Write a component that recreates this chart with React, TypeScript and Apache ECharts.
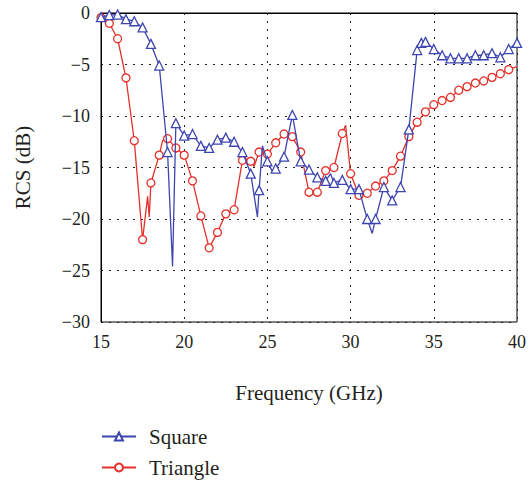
import React, { useEffect, useRef } from "react";
import * as echarts from "echarts";

const squareFreq = [15.0, 15.5, 16.0, 16.5, 17.0, 17.5, 18.0, 18.5, 19.0, 19.3, 19.5, 20.0, 20.5, 21.0, 21.5, 22.0, 22.5, 23.0, 23.5, 24.0, 24.4, 24.5, 24.7, 25.0, 25.3, 25.5, 26.0, 26.5, 27.0, 27.5, 28.0, 28.5, 28.8, 29.0, 29.5, 30.0, 30.5, 31.0, 31.3, 31.5, 32.0, 32.5, 33.0, 33.5, 34.0, 34.25, 34.5, 35.0, 35.5, 36.0, 36.5, 37.0, 37.5, 38.0, 38.5, 39.0, 39.5, 40.0];
const squareRcs = [-0.4, -0.2, -0.15, -0.6, -0.8, -1.4, -3.0, -5.1, -13.5, -24.6, -10.7, -11.9, -11.75, -12.9, -13.1, -12.3, -12.1, -12.5, -13.5, -15.6, -19.8, -17.2, -12.9, -14.4, -15.4, -15.1, -13.95, -9.9, -14.4, -15.2, -15.95, -16.3, -15.6, -16.5, -16.2, -17.1, -17.1, -20.0, -21.4, -20.0, -16.9, -18.2, -16.9, -11.3, -3.6, -2.9, -2.8, -3.5, -4.1, -4.4, -4.4, -4.4, -4.1, -4.1, -3.9, -4.3, -3.5, -2.9];
const squareUnmarked = [19.3, 24.4, 24.7, 25.3, 28.8, 31.3];

const triangleFreq = [15.0, 15.5, 16.0, 16.5, 17.0, 17.5, 17.8, 17.9, 18.0, 18.5, 18.7, 19.0, 19.5, 20.0, 20.5, 21.0, 21.5, 22.0, 22.5, 23.0, 23.5, 24.0, 24.2, 24.5, 25.0, 25.5, 26.0, 26.5, 27.0, 27.5, 28.0, 28.5, 29.0, 29.5, 29.7, 30.0, 30.5, 31.0, 31.5, 32.0, 32.5, 33.0, 33.5, 34.0, 34.5, 35.0, 35.5, 36.0, 36.5, 37.0, 37.5, 38.0, 38.5, 39.0, 39.5, 40.0];
const triangleRcs = [-0.45, -1.0, -2.5, -6.3, -12.4, -22.0, -17.8, -19.8, -16.5, -13.8, -12.4, -12.2, -13.1, -13.8, -16.3, -19.7, -22.8, -21.3, -19.5, -19.1, -14.3, -14.4, -14.9, -13.5, -13.7, -12.6, -11.75, -12.0, -13.5, -17.4, -17.4, -15.3, -15.0, -11.7, -10.9, -15.6, -17.7, -17.5, -16.8, -16.3, -15.3, -13.9, -12.0, -10.6, -9.6, -8.9, -8.5, -8.2, -7.5, -7.15, -6.8, -6.6, -6.25, -5.9, -5.5, -5.2];
const triangleUnmarked = [17.8, 17.9, 18.7, 24.2, 29.7, 40.0];

const xTicks = { min: 15, max: 40, step: 5 };
const yTicks = { min: -30, max: 0, step: 5 };

const FONT = "'Liberation Serif', 'DejaVu Serif', serif";
const TXT = "#231f20";
const BLUE = "#3d45b0";
const RED = "#e4302a";

function build(freq: number[], vals: number[], unmarked: number[]) {
  return freq.map((f, i) => {
    const item: any = { value: [f, vals[i]] };
    if (unmarked.some((u) => Math.abs(u - f) < 1e-6)) item.symbol = "none";
    return item;
  });
}

export default function App() {
  const ref = useRef<HTMLDivElement>(null);
  useEffect(() => {
    document.body.style.margin = "0";
    if (!ref.current) return;
    const chart = echarts.init(ref.current, undefined, { renderer: "svg" });
    const split = { show: true, lineStyle: { color: "#222", width: 1, type: [2, 6] as any } };
    chart.setOption({
      animation: false,
      backgroundColor: "#fff",
      grid: { left: 101, right: 11, top: 13, bottom: 159, show: true, borderColor: "#000", borderWidth: 1 },
      xAxis: {
        type: "value",
        min: xTicks.min,
        max: xTicks.max,
        interval: xTicks.step,
        name: "Frequency (GHz)",
        nameLocation: "middle",
        nameGap: 60,
        nameTextStyle: { fontFamily: FONT, fontSize: 21, color: TXT },
        axisLine: { show: true, lineStyle: { color: "#000" } },
        axisTick: { show: false },
        axisLabel: { fontFamily: FONT, fontSize: 18, color: TXT, margin: 11 },
        splitLine: split,
      },
      yAxis: {
        type: "value",
        min: yTicks.min,
        max: yTicks.max,
        interval: yTicks.step,
        name: "RCS (dB)",
        nameLocation: "middle",
        nameGap: 68,
        nameTextStyle: { fontFamily: FONT, fontSize: 21, color: TXT },
        axisLine: { show: true, lineStyle: { color: "#000" } },
        axisTick: { show: false },
        axisLabel: {
          fontFamily: FONT,
          fontSize: 18,
          color: TXT,
          margin: 11,
          formatter: (v: number) => String(v).replace("-", "\u2212"),
        },
        splitLine: split,
      },
      legend: {
        orient: "vertical",
        left: 101,
        top: 426,
        padding: 0,
        itemWidth: 34,
        itemHeight: 10,
        itemGap: 10,
        textStyle: { fontFamily: FONT, fontSize: 21, color: TXT, padding: [0, 0, 0, 8], lineHeight: 21 },
        data: ["Square", "Triangle"],
      },
      series: [
        {
          name: "Square",
          type: "line",
          data: build(squareFreq, squareRcs, squareUnmarked),
          symbol: "triangle",
          symbolSize: 9,
          showAllSymbol: true,
          lineStyle: { color: BLUE, width: 1.3 },
          itemStyle: { color: "#fff", borderColor: BLUE, borderWidth: 1.3 },
          clip: true,
          z: 3,
        },
        {
          name: "Triangle",
          type: "line",
          data: build(triangleFreq, triangleRcs, triangleUnmarked),
          symbol: "circle",
          symbolSize: 8,
          showAllSymbol: true,
          lineStyle: { color: RED, width: 1.3 },
          itemStyle: { color: "#fff", borderColor: RED, borderWidth: 1.3 },
          clip: true,
          z: 2,
        },
      ],
    });
    return () => chart.dispose();
  }, []);
  return <div ref={ref} style={{ width: 529, height: 481 }} />;
}
